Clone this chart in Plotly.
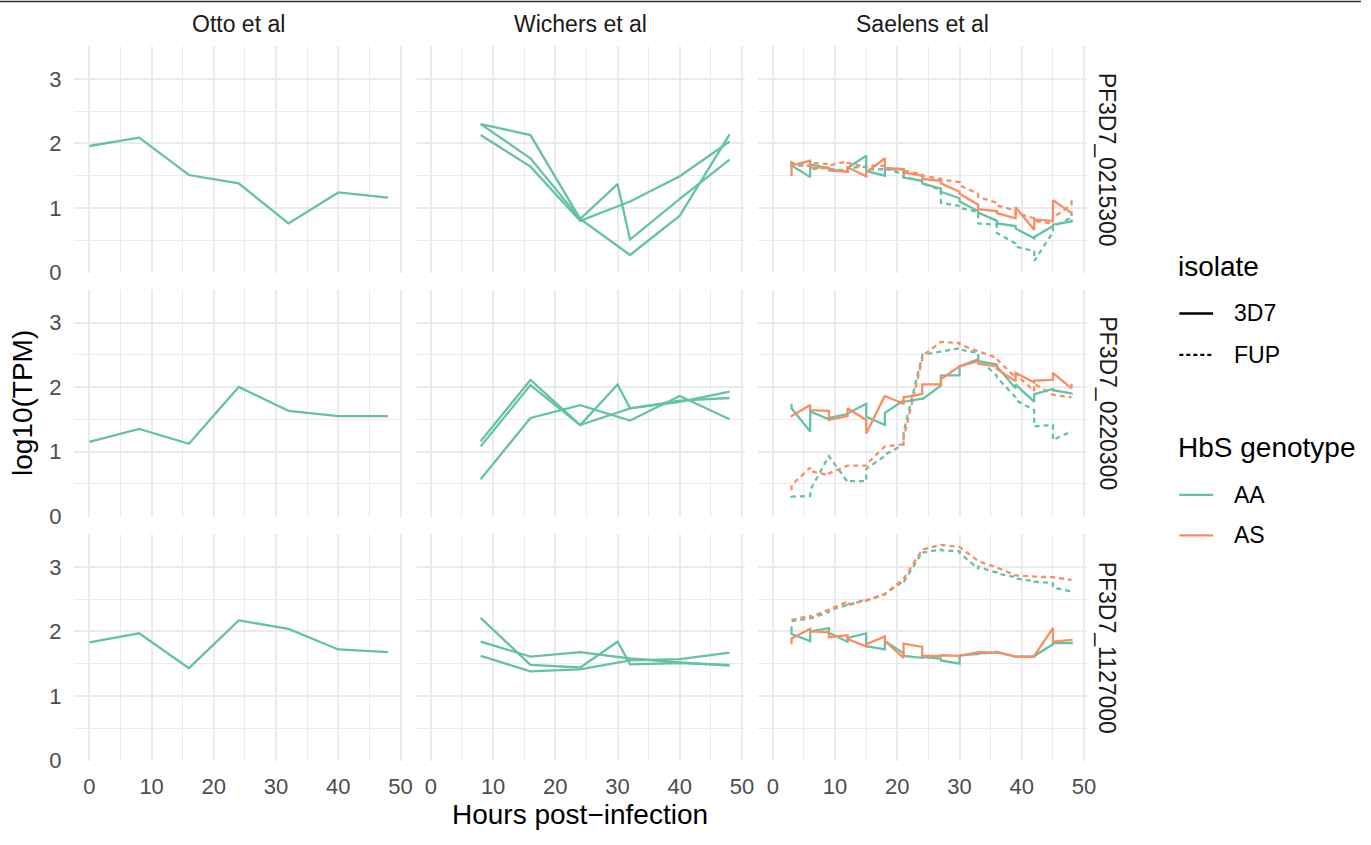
import plotly.graph_objects as go

# ---------------- data ----------------
STUDIES = ["Otto et al", "Wichers et al", "Saelens et al"]
GENES = ["PF3D7_0215300", "PF3D7_0220300", "PF3D7_1127000"]

OTTO_T = [0, 8, 16, 24, 32, 40, 48]
OTTO_0215300 = [1.96, 2.09, 1.51, 1.38, 0.76, 1.24, 1.16]
OTTO_0220300 = [1.15, 1.35, 1.12, 2.00, 1.63, 1.55, 1.55]
OTTO_1127000 = [1.83, 1.97, 1.43, 2.17, 2.04, 1.72, 1.68]

WICH_T_A = [8, 16, 24, 32, 40, 48]
WICH_T_B = [8, 16, 24, 30, 32, 40, 48]
WICH_0215300_R1 = [2.30, 2.13, 0.83, 0.27, 0.88, 2.14]
WICH_0215300_R2 = [2.30, 1.77, 0.83, 1.37, 0.51, 1.14, 1.75]
WICH_0215300_R3 = [2.13, 1.64, 0.80, 1.10, 1.49, 2.03]
WICH_0220300_R1 = [1.16, 2.11, 1.41, 1.67, 1.77, 1.93]
WICH_0220300_R2 = [1.08, 2.03, 1.41, 2.04, 1.67, 1.79, 1.83]
WICH_0220300_R3 = [0.57, 1.52, 1.72, 1.48, 1.86, 1.50]
WICH_1127000_R1 = [1.84, 1.61, 1.68, 1.58, 1.52, 1.47]
WICH_1127000_R2 = [2.21, 1.48, 1.44, 1.84, 1.49, 1.51, 1.48]
WICH_1127000_R3 = [1.62, 1.38, 1.41, 1.55, 1.57, 1.67]

SAEL_T = [3, 3, 6, 6, 9, 9, 12, 12, 15, 15, 18, 18, 21, 21, 24, 24,
          27, 27, 30, 30, 33, 33, 36, 36, 39, 39, 42, 42, 45, 45, 48, 48]

# PF3D7_0215300
SAEL_0215300_AA_3D7 = [1.72, 1.66, 1.48, 1.67, 1.62, 1.60, 1.56, 1.62, 1.81, 1.57, 1.50, 1.60,
                       1.60, 1.47, 1.42, 1.38, 1.30, 1.25, 1.15, 1.10, 0.95, 0.93, 0.80, 0.76,
                       0.72, 0.68, 0.53, 0.55, 0.72, 0.74, 0.79, 0.82]
SAEL_0215300_AS_3D7 = [1.49, 1.66, 1.73, 1.63, 1.62, 1.58, 1.56, 1.63, 1.49, 1.55, 1.77, 1.62,
                       1.60, 1.55, 1.50, 1.45, 1.42, 1.38, 1.25, 1.22, 1.05, 0.98, 0.95, 0.92,
                       0.84, 1.01, 0.66, 0.82, 0.80, 1.12, 0.92, 0.95]
SAEL_0215300_AA_FUP = [1.70, 1.66, 1.65, 1.60, 1.62, 1.60, 1.58, 1.62, 1.64, 1.60, 1.60, 1.62,
                       1.52, 1.48, 1.42, 1.38, 1.28, 1.08, 1.03, 1.00, 0.94, 0.76, 0.74, 0.61,
                       0.45, 0.40, 0.33, 0.18, 0.62, 0.71, 0.85, 0.92]
SAEL_0215300_AS_FUP = [1.73, 1.70, 1.66, 1.70, 1.68, 1.66, 1.72, 1.70, 1.63, 1.66, 1.65, 1.62,
                       1.60, 1.58, 1.52, 1.50, 1.45, 1.44, 1.40, 1.35, 1.22, 1.17, 1.08, 1.04,
                       0.96, 0.92, 0.84, 0.80, 0.76, 0.85, 1.05, 1.17]
# PF3D7_0220300
SAEL_0220300_AA_3D7 = [1.74, 1.67, 1.31, 1.62, 1.50, 1.52, 1.58, 1.59, 1.74, 1.54, 1.41, 1.60,
                       1.79, 1.77, 1.82, 1.81, 2.02, 2.18, 2.18, 2.32, 2.43, 2.40, 2.35, 2.32,
                       1.98, 2.04, 1.77, 1.89, 1.97, 1.95, 1.90, 1.91]
SAEL_0220300_AS_3D7 = [1.53, 1.55, 1.72, 1.64, 1.63, 1.49, 1.55, 1.67, 1.49, 1.28, 1.87, 1.86,
                       1.74, 1.84, 1.89, 2.04, 2.04, 2.12, 2.32, 2.32, 2.40, 2.36, 2.32, 2.28,
                       2.09, 2.22, 2.07, 2.10, 2.11, 2.22, 1.98, 2.05]
SAEL_0220300_AA_FUP = [0.31, 0.30, 0.31, 0.40, 0.93, 0.93, 0.53, 0.54, 0.54, 0.73, 0.93, 0.95,
                       1.11, 1.30, 2.48, 2.50, 2.55, 2.55, 2.60, 2.58, 2.53, 2.45, 2.17, 2.15,
                       1.84, 1.80, 1.64, 1.39, 1.41, 1.18, 1.31, 1.30]
SAEL_0220300_AS_FUP = [0.40, 0.48, 0.75, 0.70, 0.63, 0.66, 0.78, 0.78, 0.78, 0.80, 1.08, 1.08,
                       1.11, 1.20, 2.43, 2.48, 2.70, 2.70, 2.68, 2.66, 2.55, 2.55, 2.45, 2.43,
                       2.15, 2.20, 1.94, 2.05, 1.89, 1.88, 1.84, 1.84]
# PF3D7_1127000
SAEL_1127000_AA_3D7 = [2.08, 1.96, 1.85, 2.00, 2.05, 1.98, 1.84, 1.90, 1.97, 1.77, 1.72, 1.85,
                       1.66, 1.62, 1.59, 1.60, 1.58, 1.55, 1.50, 1.63, 1.65, 1.66, 1.67, 1.68,
                       1.61, 1.61, 1.61, 1.62, 1.80, 1.82, 1.82, 1.84]
SAEL_1127000_AS_3D7 = [1.80, 1.89, 2.04, 2.00, 1.99, 1.91, 1.94, 1.88, 1.77, 1.80, 1.92, 1.85,
                       1.59, 1.81, 1.76, 1.62, 1.62, 1.63, 1.62, 1.62, 1.67, 1.68, 1.67, 1.68,
                       1.61, 1.61, 1.61, 1.62, 2.05, 1.84, 1.87, 1.88]
SAEL_1127000_AA_FUP = [2.16, 2.16, 2.19, 2.20, 2.30, 2.33, 2.41, 2.40, 2.50, 2.48, 2.57, 2.58,
                       2.78, 2.76, 3.23, 3.22, 3.27, 3.26, 3.24, 3.22, 2.97, 3.00, 2.91, 2.90,
                       2.84, 2.82, 2.78, 2.77, 2.75, 2.68, 2.62, 2.62]
SAEL_1127000_AS_FUP = [2.18, 2.18, 2.24, 2.22, 2.34, 2.34, 2.46, 2.42, 2.48, 2.48, 2.58, 2.58,
                       2.81, 2.81, 3.27, 3.27, 3.34, 3.34, 3.31, 3.31, 3.09, 3.09, 2.99, 2.99,
                       2.87, 2.87, 2.85, 2.85, 2.84, 2.84, 2.80, 2.80]

X_TICKS = [0, 10, 20, 30, 40, 50]
Y_TICKS = [0, 1, 2, 3]
ISOLATES = ["3D7", "FUP"]
GENOTYPES = ["AA", "AS"]

# ---------------- style ----------------
W, H = 1371, 845
GREEN = "#66C2A5"
ORANGE = "#FC8D62"
GRID = "#EBEBEB"
FONT = "Liberation Sans, Arial, Helvetica, sans-serif"
LW = 2.3
DASH = "5px,4px"

COLS_PX = [(75, 406), (419, 750), (763.5, 1094.5)]
ROWS_PX = [(46.7, 277.0), (293.8, 524.1), (541.7, 772.0)]


def fx(px):
    return px / W


def fy(py):
    return 1 - py / H


fig = go.Figure()

panels = {
    (0, 0): [(OTTO_T, OTTO_0215300, GREEN, "solid")],
    (1, 0): [(OTTO_T, OTTO_0220300, GREEN, "solid")],
    (2, 0): [(OTTO_T, OTTO_1127000, GREEN, "solid")],
    (0, 1): [(WICH_T_A, WICH_0215300_R1, GREEN, "solid"),
             (WICH_T_B, WICH_0215300_R2, GREEN, "solid"),
             (WICH_T_A, WICH_0215300_R3, GREEN, "solid")],
    (1, 1): [(WICH_T_A, WICH_0220300_R1, GREEN, "solid"),
             (WICH_T_B, WICH_0220300_R2, GREEN, "solid"),
             (WICH_T_A, WICH_0220300_R3, GREEN, "solid")],
    (2, 1): [(WICH_T_A, WICH_1127000_R1, GREEN, "solid"),
             (WICH_T_B, WICH_1127000_R2, GREEN, "solid"),
             (WICH_T_A, WICH_1127000_R3, GREEN, "solid")],
    (0, 2): [(SAEL_T, SAEL_0215300_AA_FUP, GREEN, DASH),
             (SAEL_T, SAEL_0215300_AS_FUP, ORANGE, DASH),
             (SAEL_T, SAEL_0215300_AA_3D7, GREEN, "solid"),
             (SAEL_T, SAEL_0215300_AS_3D7, ORANGE, "solid")],
    (1, 2): [(SAEL_T, SAEL_0220300_AA_FUP, GREEN, DASH),
             (SAEL_T, SAEL_0220300_AS_FUP, ORANGE, DASH),
             (SAEL_T, SAEL_0220300_AA_3D7, GREEN, "solid"),
             (SAEL_T, SAEL_0220300_AS_3D7, ORANGE, "solid")],
    (2, 2): [(SAEL_T, SAEL_1127000_AA_FUP, GREEN, DASH),
             (SAEL_T, SAEL_1127000_AS_FUP, ORANGE, DASH),
             (SAEL_T, SAEL_1127000_AA_3D7, GREEN, "solid"),
             (SAEL_T, SAEL_1127000_AS_3D7, ORANGE, "solid")],
}

layout = dict(
    width=W, height=H, autosize=False,
    margin=dict(l=0, r=0, t=0, b=0),
    paper_bgcolor="white", plot_bgcolor="white",
    showlegend=False,
    font=dict(family=FONT, color="#4D4D4D"),
)

for r in range(3):
    for c in range(3):
        k = r * 3 + c + 1
        xa = "x" if k == 1 else f"x{k}"
        ya = "y" if k == 1 else f"y{k}"
        for (tx, vy, col, dash) in panels[(r, c)]:
            fig.add_trace(go.Scatter(x=tx, y=vy, mode="lines", xaxis=xa, yaxis=ya,
                                     line=dict(color=col, width=LW, dash=dash),
                                     hoverinfo="skip"))
        x0, x1 = COLS_PX[c]
        y0, y1 = ROWS_PX[r]
        layout["xaxis" if k == 1 else f"xaxis{k}"] = dict(
            domain=[fx(x0), fx(x1)], anchor=ya, range=[-2.4, 50.4],
            tickvals=X_TICKS, ticktext=[str(v) for v in X_TICKS],
            showticklabels=(r == 2), ticks="", ticklabelstandoff=10,
            tickfont=dict(size=22, color="#4D4D4D", family=FONT),
            showgrid=True, gridcolor=GRID, gridwidth=2, zeroline=False,
            showline=False, fixedrange=True,
            minor=dict(tickvals=[5, 15, 25, 35, 45], showgrid=True, gridcolor=GRID, gridwidth=1.2),
        )
        layout["yaxis" if k == 1 else f"yaxis{k}"] = dict(
            domain=[fy(y1), fy(y0)], anchor=xa, range=[-0.01, 3.51],
            tickvals=Y_TICKS, ticktext=[str(v) for v in Y_TICKS],
            showticklabels=(c == 0), ticks="", ticklabelstandoff=12,
            tickfont=dict(size=22, color="#4D4D4D", family=FONT),
            showgrid=True, gridcolor=GRID, gridwidth=2, zeroline=False,
            showline=False, fixedrange=True,
            minor=dict(tickvals=[0.5, 1.5, 2.5, 3.5], showgrid=True, gridcolor=GRID, gridwidth=1.2),
        )

annotations = []
# top strip labels
for c, name in enumerate(STUDIES):
    x0, x1 = COLS_PX[c]
    annotations.append(dict(text=name, x=fx((x0 + x1) / 2), y=fy(24), xref="paper", yref="paper",
                            xanchor="center", yanchor="middle", showarrow=False,
                            font=dict(size=23, color="#1A1A1A", family=FONT)))
# right strip labels
for r, g in enumerate(GENES):
    y0, y1 = ROWS_PX[r]
    annotations.append(dict(text=g, x=fx(1116), y=fy((y0 + y1) / 2), xref="paper", yref="paper",
                            xanchor="center", yanchor="middle", showarrow=False, textangle=90,
                            font=dict(size=23, color="#1A1A1A", family=FONT)))
# axis titles
annotations.append(dict(text="Hours post\u2212infection", x=fx(584), y=fy(826), xref="paper", yref="paper",
                        xanchor="center", yanchor="middle", showarrow=False,
                        font=dict(size=28, color="black", family=FONT)))
annotations.append(dict(text="log10(TPM)", x=fx(22), y=fy(409), xref="paper", yref="paper",
                        xanchor="center", yanchor="middle", showarrow=False, textangle=-90,
                        font=dict(size=28, color="black", family=FONT)))

# legend (drawn)
shapes = []
LEG_X_TITLE = 1185
LEG_LINE_X0, LEG_LINE_X1 = 1188, 1222
LEG_LABEL_X = 1241
annotations.append(dict(text="isolate", x=fx(LEG_X_TITLE), y=fy(270), xref="paper", yref="paper",
                        xanchor="left", yanchor="middle", showarrow=False,
                        font=dict(size=28, color="black", family=FONT)))
for lab, dash, yy in zip(ISOLATES, ["solid", "4px,3px"], [318, 360]):
    shapes.append(dict(type="line", xref="paper", yref="paper",
                       x0=fx(LEG_LINE_X0), x1=fx(LEG_LINE_X1), y0=fy(yy), y1=fy(yy),
                       line=dict(color="black", width=LW, dash=dash)))
    annotations.append(dict(text=lab, x=fx(LEG_LABEL_X), y=fy(yy), xref="paper", yref="paper",
                            xanchor="left", yanchor="middle", showarrow=False,
                            font=dict(size=23, color="black", family=FONT)))
annotations.append(dict(text="HbS genotype", x=fx(LEG_X_TITLE), y=fy(454), xref="paper", yref="paper",
                        xanchor="left", yanchor="middle", showarrow=False,
                        font=dict(size=28, color="black", family=FONT)))
for lab, col, yy in zip(GENOTYPES, [GREEN, ORANGE], [502, 543]):
    shapes.append(dict(type="line", xref="paper", yref="paper",
                       x0=fx(LEG_LINE_X0), x1=fx(LEG_LINE_X1), y0=fy(yy), y1=fy(yy),
                       line=dict(color=col, width=LW)))
    annotations.append(dict(text=lab, x=fx(LEG_LABEL_X), y=fy(yy), xref="paper", yref="paper",
                            xanchor="left", yanchor="middle", showarrow=False,
                            font=dict(size=23, color="black", family=FONT)))

# thin dark border line at very top
shapes.append(dict(type="line", xref="paper", yref="paper", x0=0, x1=1, y0=fy(1.5), y1=fy(1.5),
                   line=dict(color="#333333", width=1.5)))

layout["annotations"] = annotations
layout["shapes"] = shapes
fig.update_layout(**layout)

POST = ("var s=document.documentElement.style;s.margin='0';s.padding='0';s.overflow='hidden';"
        "var b=document.body.style;b.margin='0';b.padding='0';b.overflow='hidden';"
        "var d=document.getElementById('{plot_id}');"
        "if(d&&d.parentElement){d.parentElement.style.margin='0';d.parentElement.style.height='845px';"
        "d.parentElement.style.overflow='hidden';}")
fig.write_html("out.html", config={"displayModeBar": False, "responsive": False},
               post_script=POST)
